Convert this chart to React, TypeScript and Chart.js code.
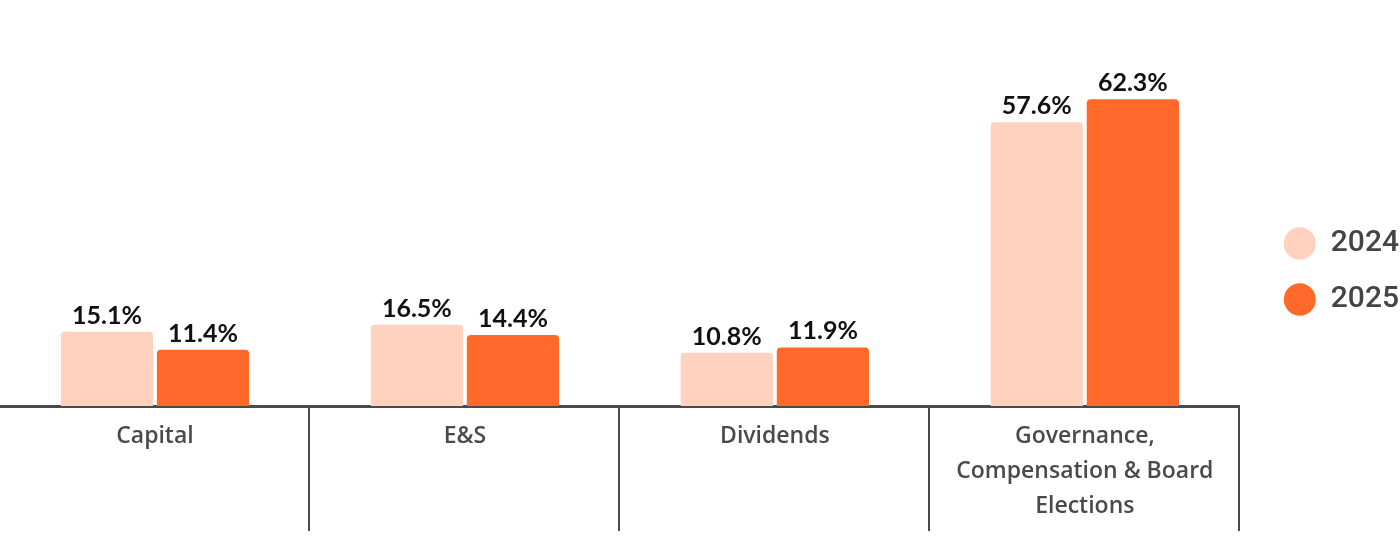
import React, { useEffect, useRef } from "react";
import { Chart, registerables } from "chart.js";

Chart.register(...registerables);

const categories: (string | string[])[] = [
  "Capital",
  "E&S",
  "Dividends",
  ["Governance,", "Compensation & Board", "Elections"],
];
const seriesNames = ["2024", "2025"];
const values2024 = [15.1, 16.5, 10.8, 57.6];
const values2025 = [11.4, 14.4, 11.9, 62.3];
const seriesColors = ["#FFD2C0", "#FF6A2A"];
const yMax = 79.6;

const LABEL_FONT = "Lato, 'Noto Sans', sans-serif";
const TICK_FONT = "'Open Sans', 'Noto Sans', sans-serif";
const AXIS_COLOR = "#4a4a4a";

const valueLabels = {
  id: "valueLabels",
  afterDatasetsDraw(chart: any) {
    const ctx = chart.ctx;
    ctx.save();
    ctx.font = `bold 25px ${LABEL_FONT}`;
    ctx.fillStyle = "#111111";
    ctx.textAlign = "center";
    ctx.textBaseline = "alphabetic";
    chart.data.datasets.forEach((ds: any, di: number) => {
      const meta = chart.getDatasetMeta(di);
      meta.data.forEach((el: any, i: number) => {
        ctx.fillText(`${ds.data[i].toFixed(1)}%`, el.x, el.y - 8);
      });
    });
    ctx.restore();
  },
};

const separators = {
  id: "separators",
  afterDraw(chart: any) {
    const x = chart.scales.x;
    const n = chart.data.labels.length;
    if (n < 2) return;
    const half = (x.getPixelForValue(1) - x.getPixelForValue(0)) / 2;
    const ctx = chart.ctx;
    ctx.save();
    ctx.strokeStyle = AXIS_COLOR;
    ctx.lineWidth = 2;
    for (let i = 0; i < n; i++) {
      const px = Math.round(x.getPixelForValue(i) + half) - 1;
      ctx.beginPath();
      ctx.moveTo(px, chart.chartArea.bottom);
      ctx.lineTo(px, chart.height - 15);
      ctx.stroke();
    }
    ctx.restore();
  },
};

export default function App() {
  const ref = useRef<HTMLCanvasElement | null>(null);
  useEffect(() => {
    if (!ref.current) return;
    const chart = new Chart(ref.current, {
      type: "bar",
      data: {
        labels: categories as any,
        datasets: [
          {
            label: seriesNames[0],
            data: values2024,
            backgroundColor: seriesColors[0],
            borderRadius: 4,
            categoryPercentage: 0.62,
            barPercentage: 0.96,
          },
          {
            label: seriesNames[1],
            data: values2025,
            backgroundColor: seriesColors[1],
            borderRadius: 4,
            categoryPercentage: 0.62,
            barPercentage: 0.96,
          },
        ],
      },
      options: {
        animation: false,
        responsive: true,
        maintainAspectRatio: false,
        layout: { padding: { top: 14, bottom: 17, left: 0, right: 0 } },
        plugins: {
          tooltip: { enabled: false },
          legend: {
            position: "right",
            align: "center",
            labels: {
              usePointStyle: true,
              pointStyle: "circle",
              boxHeight: 23,
              pointStyleWidth: 32,
              padding: 26,
              color: "#444444",
              font: { family: "Roboto, 'Noto Sans', sans-serif", size: 30, weight: 500 },
            },
          },
        },
        scales: {
          x: {
            grid: { display: false },
            border: { display: true, color: AXIS_COLOR, width: 3 },
            ticks: {
              color: AXIS_COLOR,
              padding: 5,
              maxRotation: 0,
              autoSkip: false,
              font: { family: TICK_FONT, size: 23, weight: 600, lineHeight: 35 / 23 },
            },
          },
          y: {
            position: "right",
            min: 0,
            max: yMax,
            grid: { display: false },
            border: { display: false },
            ticks: { display: false },
            afterFit(scale: any) {
              scale.width = 18;
            },
          },
        },
      },
      plugins: [valueLabels, separators],
    });
    return () => chart.destroy();
  }, []);
  return (
    <div style={{ position: "absolute", left: 0, top: 0, width: 1400, height: 546, overflow: "hidden", background: "#fff" }}>
      <div style={{ position: "absolute", left: 0, top: 0, width: 1409, height: 546 }}>
        <canvas ref={ref} />
      </div>
    </div>
  );
}
